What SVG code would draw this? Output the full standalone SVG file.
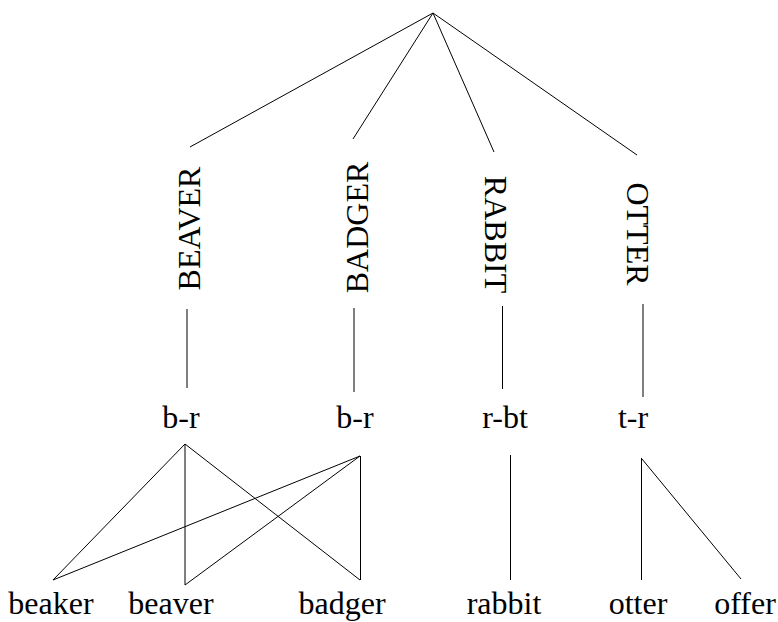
<svg xmlns="http://www.w3.org/2000/svg" width="778" height="622" viewBox="0 0 778 622">
<style>
text{font-family:"Liberation Serif","Times New Roman",serif;font-size:32px;fill:#000;text-anchor:middle}
line{stroke:#000;stroke-width:1}
</style>
<rect width="778" height="622" fill="#fff"/>
<g id="connectors">
<line x1="433" y1="13" x2="190" y2="147"/>
<line x1="433" y1="13" x2="353" y2="139"/>
<line x1="433" y1="13" x2="494" y2="152"/>
<line x1="433" y1="13" x2="637" y2="155"/>
<line x1="187" y1="309" x2="187" y2="388"/>
<line x1="354" y1="308" x2="354" y2="392"/>
<line x1="502.5" y1="306" x2="502.5" y2="389"/>
<line x1="643" y1="304" x2="643" y2="397"/>
<line x1="185" y1="444" x2="53" y2="580"/>
<line x1="185" y1="444" x2="185" y2="585"/>
<line x1="185" y1="444" x2="360" y2="580"/>
<line x1="360" y1="456" x2="53" y2="580"/>
<line x1="360" y1="456" x2="185" y2="585"/>
<line x1="360.5" y1="456" x2="360.5" y2="580"/>
<line x1="510.5" y1="455" x2="510.5" y2="580"/>
<line x1="641.5" y1="458" x2="641.5" y2="580"/>
<line x1="642" y1="459" x2="741" y2="579"/>
</g>
<g id="BEAVER"><text transform="translate(200,228.5) rotate(-90)">BEAVER</text></g>
<g id="BADGER"><text transform="translate(368,227.5) rotate(-90)">BADGER</text></g>
<g id="RABBIT"><text transform="translate(485,234.5) rotate(90)">RABBIT</text></g>
<g id="OTTER"><text transform="translate(627,234) rotate(90)">OTTER</text></g>
<g id="br1"><text x="181" y="428">b-r</text></g>
<g id="br2"><text x="355" y="428">b-r</text></g>
<g id="rbt"><text x="505" y="428">r-bt</text></g>
<g id="tr"><text x="633" y="428">t-r</text></g>
<g id="beaker"><text x="51" y="614">beaker</text></g>
<g id="beaver"><text x="171" y="614">beaver</text></g>
<g id="badger"><text x="342" y="614">badger</text></g>
<g id="rabbit"><text x="504" y="614">rabbit</text></g>
<g id="otter"><text x="638" y="614">otter</text></g>
<g id="offer"><text x="745" y="614">offer</text></g>
</svg>
